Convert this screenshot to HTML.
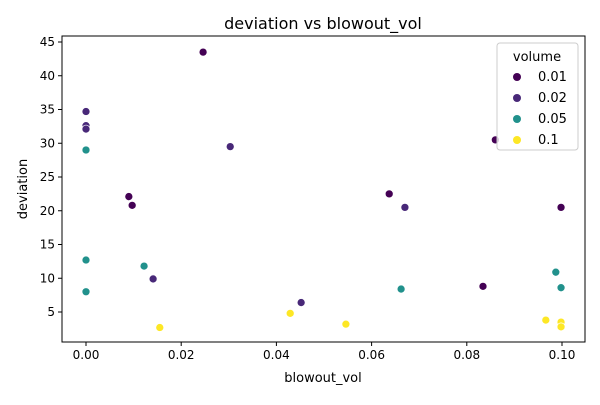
<!DOCTYPE html>
<html><head><meta charset="utf-8"><style>
body{margin:0;background:#fff;font-family:"Liberation Sans","DejaVu Sans",sans-serif;}
svg text{font-family:"DejaVu Sans","Liberation Sans",sans-serif;}
</style></head><body>
<svg id="c" width="600" height="400"></svg>
<script>
const xs=[0.0246,0,0,0,0,0.0303,0.086,0.009,0.0097,0.0637,0.067,0.0998,0,0.0122,0.0141,0,0.0987,0.0998,0.0834,0.0662,0.0452,0.0155,0.0429,0.0546,0.0966,0.0998,0.0998];
const ys=[43.5,34.7,32.6,32.1,29.0,29.5,30.5,22.1,20.8,22.5,20.5,20.5,12.7,11.8,9.9,8.0,10.9,8.6,8.8,8.4,6.4,2.7,4.8,3.2,3.8,3.5,2.8];
const vols=[0.01,0.02,0.02,0.02,0.05,0.02,0.01,0.01,0.01,0.01,0.02,0.01,0.05,0.05,0.02,0.05,0.05,0.05,0.01,0.05,0.02,0.1,0.1,0.1,0.1,0.1,0.1];
const legendVals=[0.01,0.02,0.05,0.1];
const legendLabels=["0.01","0.02","0.05","0.1"];
const xTicks=[0,0.02,0.04,0.06,0.08,0.10];
const xTickLabels=["0.00","0.02","0.04","0.06","0.08","0.10"];
const yTicks=[5,10,15,20,25,30,35,40,45];
const colors={0.01:"#440154",0.02:"#482878",0.05:"#21918c",0.1:"#fde725"};
const L=62,R=585,T=36,B=342;
const sx=v=>86+v*4760, sy=v=>312-(v-5)*6.75;
const svg=document.getElementById('c');const NS="http://www.w3.org/2000/svg";
function mk(t,a,p){const e=document.createElementNS(NS,t);for(const k in a)e.setAttribute(k,a[k]);(p||svg).appendChild(e);return e;}
let f=mk('rect',{x:L,y:T,width:R-L,height:B-T,fill:'none',stroke:'#000','stroke-width':1});

let t=mk('text',{x:323,y:29,'text-anchor':'middle','font-size':16});t.textContent='deviation vs blowout_vol';

xTicks.forEach((v,i)=>{const x=sx(v);mk('line',{x1:x,x2:x,y1:B,y2:B+4,stroke:'#000'});
const e=mk('text',{x:x,y:B+17,'text-anchor':'middle','font-size':12});e.textContent=xTickLabels[i];
});
yTicks.forEach(v=>{const y=sy(v);mk('line',{x1:L-4,x2:L,y1:y,y2:y,stroke:'#000'});
const e=mk('text',{x:L-7,y:y+4,'text-anchor':'end','font-size':12});e.textContent=v;
});
let xl=mk('text',{x:323,y:382,'text-anchor':'middle','font-size':13});xl.textContent='blowout_vol';

let yl=mk('text',{x:27,y:189,'text-anchor':'middle','font-size':13,transform:'rotate(-90 27 189)'});yl.textContent='deviation';

xs.forEach((v,i)=>{const c=mk('circle',{cx:sx(v),cy:sy(ys[i]),r:4,fill:colors[vols[i]],stroke:'#fff','stroke-width':0.7});
});
const lg=mk('g',{});
mk('rect',{x:497,y:43,width:81,height:107,rx:3,fill:'#fff','fill-opacity':0.8,stroke:'#ccc'},lg);
const lt=mk('text',{x:537,y:61,'text-anchor':'middle','font-size':13},lg);lt.textContent='volume';
legendVals.forEach((v,i)=>{const y=77+i*21;
const g=mk('g',{},lg);
mk('circle',{cx:517,cy:y,r:4,fill:colors[v]},g);
const e=mk('text',{x:538,y:y+4,'font-size':13},g);e.textContent=legendLabels[i];});
</script>
</body></html>
